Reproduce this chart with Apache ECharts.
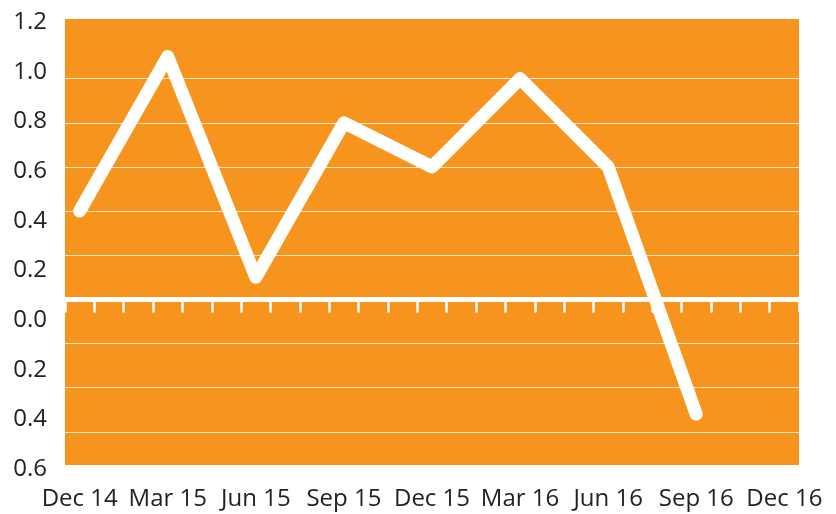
<!DOCTYPE html>
<html>
<head>
<meta charset="utf-8">
<script src="https://cdn.jsdelivr.net/npm/echarts@6/dist/echarts.min.js"></script>
<style>
  html, body { margin: 0; padding: 0; background: #fff; }
  #chart { width: 836px; height: 514px; }
</style>
</head>
<body>
<div id="chart"></div>
<script>
// months along the x axis (one tick per month, labels every quarter)
var months = [
  'Dec 14', 'Jan 15', 'Feb 15', 'Mar 15', 'Apr 15', 'May 15', 'Jun 15',
  'Jul 15', 'Aug 15', 'Sep 15', 'Oct 15', 'Nov 15', 'Dec 15',
  'Jan 16', 'Feb 16', 'Mar 16', 'Apr 16', 'May 16', 'Jun 16',
  'Jul 16', 'Aug 16', 'Sep 16', 'Oct 16', 'Nov 16', 'Dec 16'
]
var quarters = ['Dec 14', 'Mar 15', 'Jun 15', 'Sep 15', 'Dec 15', 'Mar 16', 'Jun 16', 'Sep 16']
var values = [0.4, 1.1, 0.1, 0.8, 0.6, 1.0, 0.6, -0.52]
// horizontal grid lines (zero is drawn by the axis line)
var gridValues = [1.0, 0.8, 0.6, 0.4, 0.2, -0.2, -0.4, -0.6]
// y tick labels, bottom to top, as printed
var yLabels = ['0.6', '0.4', '0.2', '0.0', '0.2', '0.4', '0.6', '0.8', '1.0', '1.2']

var chart = echarts.init(document.getElementById('chart'))
var font = 'Open Sans'

var options = {
  animation: false,
  grid: [
    {
      left: 65,
      right: 37,
      top: 19,
      bottom: 49,
      show: true,
      backgroundColor: '#f7941d',
      borderWidth: 0
    },
    {
      // only carries the printed y labels
      left: 65,
      right: 37,
      top: 22,
      bottom: 45
    }
  ],
  xAxis: [
    {
      type: 'category',
      gridIndex: 0,
      data: months,
      boundaryGap: true,
      axisLine: { show: false, onZero: false },
      axisTick: { show: false },
      axisLabel: {
        interval: 2,
        color: '#222',
        fontSize: 24,
        fontFamily: font,
        margin: 22
      }
    },
    {
      type: 'category',
      gridIndex: 0,
      position: 'bottom',
      data: months,
      boundaryGap: true,
      axisLine: { show: true, onZero: true, lineStyle: { color: '#fff', width: 5 } },
      axisTick: {
        show: true,
        interval: 0,
        length: 12,
        lineStyle: { color: '#fff', width: 2.5, cap: 'round' }
      },
      axisLabel: { show: false }
    },
    {
      type: 'category',
      gridIndex: 1,
      data: months,
      show: false
    }
  ],
  yAxis: [
    {
      type: 'value',
      gridIndex: 0,
      min: -0.75,
      max: 1.27,
      axisLine: { show: false },
      axisTick: { show: false },
      axisLabel: { show: false },
      splitLine: { show: false }
    },
    {
      type: 'category',
      gridIndex: 1,
      data: yLabels,
      boundaryGap: false,
      axisLine: { show: false },
      axisTick: { show: false },
      splitLine: { show: false },
      axisLabel: {
        interval: 0,
        color: '#222',
        fontSize: 24,
        fontFamily: font,
        margin: 18
      }
    }
  ],
  series: [
    {
      type: 'line',
      xAxisIndex: 0,
      yAxisIndex: 0,
      data: quarters.map(function (q, i) { return [q, values[i]] }),
      showSymbol: false,
      symbol: 'none',
      z: 1,
      lineStyle: { color: '#fff', width: 13, cap: 'round', join: 'round' },
      markLine: {
        silent: true,
        symbol: 'none',
        label: { show: false },
        lineStyle: { color: 'rgba(255,255,255,0.75)', width: 1, type: 'solid' },
        data: gridValues.map(function (v) { return { yAxis: v } })
      }
    }
  ]
}
chart.setOption(options)
</script>
</body>
</html>
